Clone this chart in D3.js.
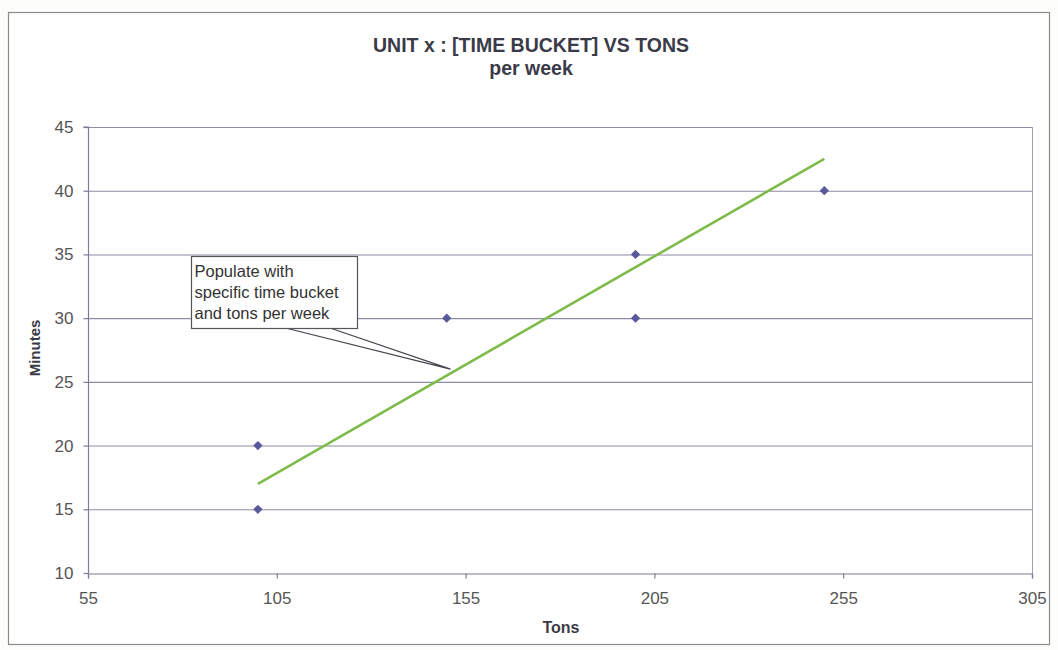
<!DOCTYPE html>
<html>
<head>
<meta charset="utf-8">
<script src="https://cdn.jsdelivr.net/npm/d3@7"></script>
<style>
  html, body { margin: 0; padding: 0; background: #fff; }
  svg { display: block; font-family: Arial, "Liberation Sans", sans-serif; }
</style>
</head>
<body>
<svg id="chart" width="1058" height="650"></svg>
<script>
// Weekly tonnage vs. time bucket (minutes)
const tons    = [100, 100, 150, 200, 200, 250];
const minutes = [20, 15, 30, 35, 30, 40];

// Fitted line endpoints
const trendTons    = [100, 250];
const trendMinutes = [17, 42.5];

const xTicks = [55, 105, 155, 205, 255, 305];
const yTicks = [10, 15, 20, 25, 30, 35, 40, 45];

const titleLines = ["UNIT x : [TIME BUCKET] VS TONS", "per week"];
const calloutLines = ["Populate with", "specific time bucket", "and tons per week"];
const calloutTarget = [151, 26];

const svg = d3.select("#chart");
const W = 1058, H = 650;
const m = { left: 88, right: 1032, top: 127, bottom: 573 };

// chart frame
svg.append("rect").attr("width", W).attr("height", H).attr("fill", "#fdfdfb");
svg.append("rect")
  .attr("x", 8.5).attr("y", 12.5).attr("width", 1041).attr("height", 632)
  .attr("fill", "#ffffff").attr("stroke", "#8a8a8a").attr("stroke-width", 1.2);

const x = d3.scaleLinear().domain([55, 305]).range([m.left, m.right]);
const y = d3.scaleLinear().domain([10, 45]).range([m.bottom, m.top]);

const gridColor = "#8c8ca4";

// horizontal gridlines
svg.append("g")
  .selectAll("line").data(yTicks.filter(d => d > 10)).join("line")
  .attr("x1", m.left).attr("x2", m.right)
  .attr("y1", d => y(d) + 0.5).attr("y2", d => y(d) + 0.5)
  .attr("stroke", gridColor).attr("stroke-width", 1.1);

// right border of plot area
svg.append("line")
  .attr("x1", m.right + 0.5).attr("x2", m.right + 0.5)
  .attr("y1", m.top).attr("y2", m.bottom)
  .attr("stroke", "#a0a0b0").attr("stroke-width", 1);

// axes
const xAxis = d3.axisBottom(x).tickValues(xTicks).tickSize(5).tickPadding(13)
  .tickFormat(d3.format("d"));
const yAxis = d3.axisLeft(y).tickValues(yTicks).tickSize(5).tickPadding(10)
  .tickFormat(d3.format("d"));

const gx = svg.append("g").attr("transform", `translate(0,${m.bottom + 0.5})`).call(xAxis);
const gy = svg.append("g").attr("transform", `translate(${m.left + 0.5},0)`).call(yAxis);

[gx, gy].forEach(g => {
  g.selectAll("path, line").attr("stroke", "#7c7c94").attr("stroke-width", 1.2);
  g.selectAll("text").attr("fill", "#555").attr("font-size", 17)
    .attr("font-family", "Arial, 'Liberation Sans', sans-serif");
});
gy.select(".domain").attr("d", `M-5,${m.top}H0V${m.bottom}`);

// axis titles
svg.append("text")
  .attr("x", 561).attr("y", 633)
  .attr("text-anchor", "middle").attr("font-weight", "bold")
  .attr("font-size", 16).attr("fill", "#3c3c48").text("Tons");
svg.append("text")
  .attr("transform", `translate(40,348) rotate(-90)`)
  .attr("text-anchor", "middle").attr("font-weight", "bold")
  .attr("font-size", 15).attr("fill", "#3c3c48").text("Minutes");

// title
svg.append("g").selectAll("text").data(titleLines).join("text")
  .attr("x", 531).attr("y", (d, i) => 52 + i * 23)
  .attr("text-anchor", "middle").attr("font-weight", "bold")
  .attr("font-size", 19.5)
  .attr("fill", "#3a3a48").text(d => d);

// fitted line
const line = d3.line().x(d => x(d[0])).y(d => y(d[1]));
svg.append("path")
  .datum(d3.zip(trendTons, trendMinutes))
  .attr("d", line)
  .attr("fill", "none").attr("stroke", "#7dbb4a").attr("stroke-width", 2.6);

// data markers (diamonds)
svg.append("g").selectAll("path").data(d3.zip(tons, minutes)).join("path")
  .attr("transform", d => `translate(${x(d[0])},${y(d[1])})`)
  .attr("d", d3.symbol(d3.symbolDiamond2, 55))
  .attr("fill", "#58589a");

// callout
const box = { x: 191.5, y: 256.5, w: 166, h: 72 };
const tx = x(calloutTarget[0]), ty = y(calloutTarget[1]);
svg.append("path")
  .attr("d", `M${box.x + 96},${box.y + box.h} L${tx},${ty} L${box.x + 140},${box.y + box.h}`)
  .attr("fill", "none").attr("stroke", "#44444c").attr("stroke-width", 1.2);
svg.append("rect")
  .attr("x", box.x).attr("y", box.y).attr("width", box.w).attr("height", box.h)
  .attr("fill", "#ffffff").attr("stroke", "#55555c").attr("stroke-width", 1.2);
svg.append("g").selectAll("text").data(calloutLines).join("text")
  .attr("x", box.x + 3).attr("y", (d, i) => box.y + 20 + i * 21)
  .attr("font-size", 16.5).attr("fill", "#333").text(d => d);
</script>
</body>
</html>
